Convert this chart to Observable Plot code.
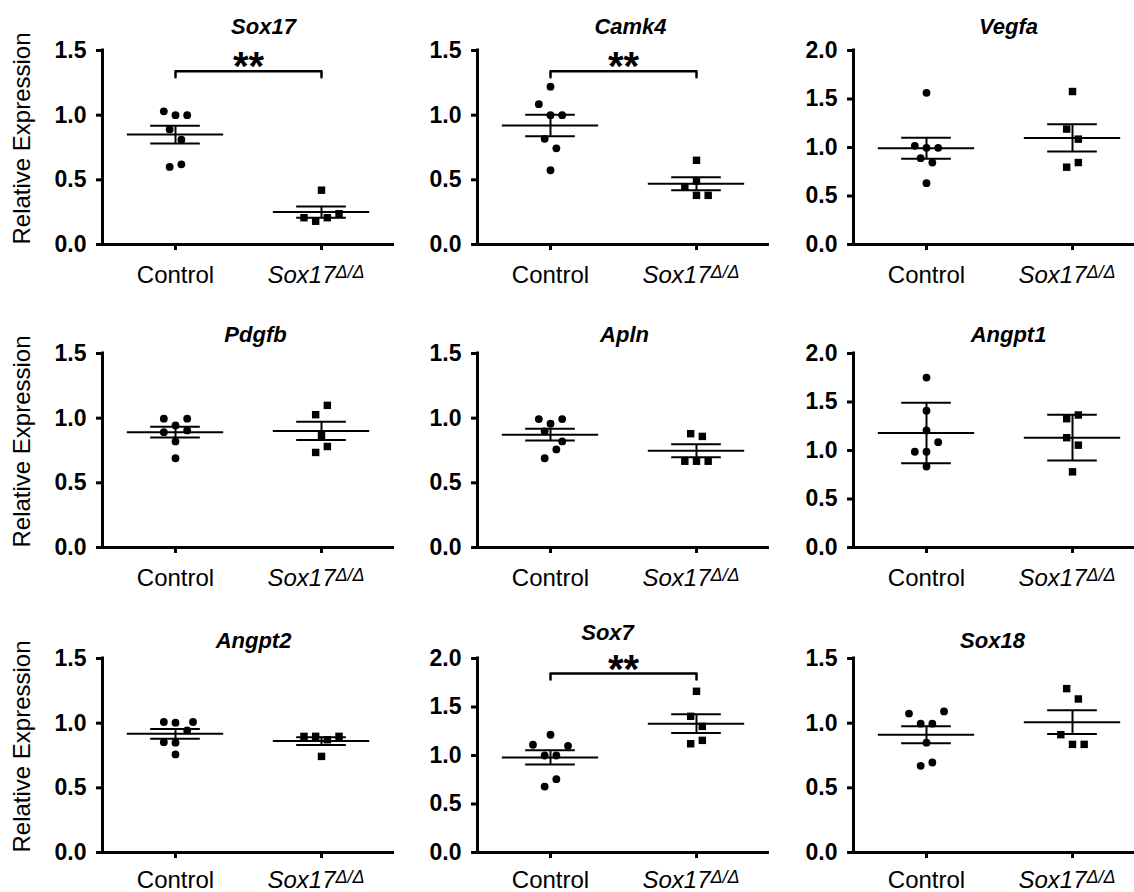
<!DOCTYPE html>
<html><head><meta charset="utf-8">
<script src="https://cdn.jsdelivr.net/npm/d3@7"></script>
<script src="https://cdn.jsdelivr.net/npm/@observablehq/plot@0.6"></script>
<style>
html,body{margin:0;padding:0;background:#fff;overflow:hidden;width:1134px;height:892px;}
#wrap{position:relative;width:1134px;height:892px;overflow:hidden;background:#fff;}
.panel{position:absolute;}
</style></head><body><div id="wrap"></div>
<script>
// ---- data ----
const genes = ["Sox17","Camk4","Vegfa","Pdgfb","Apln","Angpt1","Angpt2","Sox7","Sox18"];
const groups = ["Control","Sox17"];
const groupSuperscript = "Δ/Δ";
const yLabel = "Relative Expression";
const yMax = [1.5,1.5,2.0,1.5,1.5,2.0,1.5,2.0,1.5];
const errType = ["sem","sem","sem","sem","sem","sd","sem","sem","sem"];
const stars = ["**","**","","","","","","**",""];
const bracketY = [1.34,1.34,null,null,null,null,null,1.845,null];

const controlValues = [
  [1.03,1.0,1.0,0.89,0.81,0.60,0.62],
  [1.22,1.085,1.0,1.0,0.817,0.744,0.574],
  [1.564,1.017,0.997,0.997,0.89,0.845,0.632],
  [0.996,0.996,0.944,0.892,0.905,0.82,0.69],
  [0.993,0.957,0.993,0.898,0.82,0.758,0.69],
  [1.752,1.411,1.207,1.086,0.987,0.987,0.835],
  [1.009,1.004,1.009,0.944,0.853,0.849,0.758],
  [1.214,1.111,1.10,1.0,1.0,0.756,0.68],
  [1.074,1.091,0.996,0.996,0.849,0.67,0.696]
];
const controlLanes = [
  [-2,0,2,-1,1,-1,1],
  [0,-2,0,2,-1,1,0],
  [0,-2,0,2,-1,1,0],
  [-2,2,0,-2,2,0,0],
  [-2,0,2,-1,2,1,-1],
  [0,0,0,2,-2,0,0],
  [-2,0,3,2,-2,0,0],
  [0,-3,3,-1,1,1,-1],
  [-3,3,-1,1,0,-1,1]
];
const mutantValues = [
  [0.42,0.207,0.18,0.207,0.238],
  [0.651,0.491,0.444,0.38,0.38],
  [1.577,1.19,1.086,0.797,0.845],
  [1.099,1.027,0.864,0.781,0.735],
  [0.88,0.859,0.667,0.667,0.667],
  [1.366,1.328,1.132,1.055,0.78],
  [0.898,0.898,0.872,0.898,0.743],
  [1.662,1.404,1.30,1.121,1.156],
  [1.267,1.187,0.911,0.836,0.836]
];
const mutantLanes = [
  [0,-3,-1,1,3],
  [0,0,-2,0,2],
  [0,-1,1,-1,1],
  [1,-1,0,1,-1],
  [-1,1,-2,0,2],
  [1,-1,-1,1,0],
  [-3,-1,1,3,0],
  [0,-1,1,-1,1],
  [-1,1,-2,0,2]
];

// ---- layout ----
const FONT = "'Liberation Sans', Arial, Helvetica, sans-serif";
const W = 400, H = 290, ML = 102, MT = 50, MB = 46, MR = 6;
const colLeft = [0,375,751], rowTop = [0,303,608];
const titleDy = [-17,-17,-17,-12,-12,-12,-11,-19,-11];
const titleDx = [15,7,9,7,1,9,5,-16,-7];
const labelDy = [38,38,35];
const laneUnit = 0.04;

const wrap = document.getElementById("wrap");

genes.forEach((gene, i) => {
  const col = i % 3, row = Math.floor(i / 3);
  const ctrl = controlValues[i].map((v, j) => ({x: 0.5 + controlLanes[i][j] * laneUnit, y: v}));
  const mut = mutantValues[i].map((v, j) => ({x: 1.5 + mutantLanes[i][j] * laneUnit, y: v}));
  const stats = [controlValues[i], mutantValues[i]].map((vals, g) => {
    const m = d3.mean(vals), sd = d3.deviation(vals);
    const e = errType[i] === "sd" ? sd : sd / Math.sqrt(vals.length);
    return {x: g + 0.5, mean: m, lo: m - e, hi: m + e};
  });
  const caps = stats.flatMap(s => [{x: s.x, y: s.lo}, {x: s.x, y: s.hi}]);
  const yTicks = d3.range(0, yMax[i] + 1e-9, 0.5);
  const pxPerY = (H - MT - MB) / yMax[i];
  const ldy = labelDy[row];

  const marks = [
    Plot.ruleX([0], {y1: 0, y2: yMax[i], strokeWidth: 3, strokeLinecap: "square"}),
    Plot.ruleY([0], {x1: 0, x2: 2, strokeWidth: 3}),
    Plot.axisY({ticks: yTicks, tickFormat: d => d.toFixed(1), tickSize: 6, tickPadding: 10,
      strokeWidth: 3, fontSize: 23, fontWeight: "bold", label: null}),
    Plot.axisX({ticks: [0.5, 1.5], tickFormat: () => "", tickSize: 6, strokeWidth: 3, label: null}),
    Plot.ruleY(stats, {y: "mean", x1: d => d.x - 0.33, x2: d => d.x + 0.33, strokeWidth: 2}),
    Plot.ruleY(caps, {y: "y", x1: d => d.x - 0.17, x2: d => d.x + 0.17, strokeWidth: 2}),
    Plot.ruleX(stats, {x: "x", y1: "lo", y2: "hi", strokeWidth: 2}),
    Plot.dot(ctrl, {x: "x", y: "y", r: 3.9, fill: "black", symbol: "circle"}),
    Plot.dot(mut, {x: "x", y: "y", r: 4.2, fill: "black", symbol: "square"}),
    Plot.text([gene], {frameAnchor: "top", text: d => d, dy: titleDy[i], dx: titleDx[i], lineAnchor: "bottom",
      textAnchor: "middle", fontSize: 22, fontStyle: "italic", fontWeight: "bold"}),
    Plot.text([{x: 0.5}], {x: "x", y: () => 0, text: () => groups[0], fontSize: 24, fontWeight: "normal",
      lineAnchor: "bottom", dy: ldy}),
    Plot.text([{x: 1.5}], {x: "x", y: () => 0, text: () => groups[1], fontSize: 24, fontWeight: "normal",
      fontStyle: "italic", textAnchor: "end", dx: 14, lineAnchor: "bottom", dy: ldy}),
    Plot.text([{x: 1.5}], {x: "x", y: () => 0, text: () => groupSuperscript, fontSize: 18, fontWeight: "normal",
      fontStyle: "italic", textAnchor: "start", dx: 14, lineAnchor: "bottom", dy: ldy - 5, ariaLabel: "superscript"})
  ];
  if (col === 0) {
    marks.push(Plot.text([yLabel], {frameAnchor: "left", text: d => d, rotate: -90, dx: -80, dy: -9,
      textAnchor: "middle", lineAnchor: "middle", fontSize: 24, fontWeight: "normal"}));
  }
  if (stars[i]) {
    const b = bracketY[i], leg = 6 / pxPerY;
    marks.push(Plot.line([{x: 0.5, y: b - leg}, {x: 0.5, y: b}, {x: 1.5, y: b}, {x: 1.5, y: b - leg}],
      {x: "x", y: "y", strokeWidth: 2.5}));
    marks.push(Plot.text([{x: 1, y: b}], {x: "x", y: "y", text: () => stars[i], fontSize: 40, fontWeight: "bold",
      lineAnchor: "bottom", dy: 9, ariaLabel: "stars"}));
  }

  const svg = Plot.plot({
    width: W, height: H, marginLeft: ML, marginRight: MR, marginTop: MT, marginBottom: MB,
    x: {domain: [0, 2], axis: null},
    y: {domain: [0, yMax[i]], axis: null},
    style: {fontFamily: FONT, fontSize: "23px", fontWeight: "bold", background: "transparent", overflow: "visible", color: "black"},
    marks
  });
  d3.select(svg).selectAll('g[aria-label="superscript"] text').attr("letter-spacing", "2.5px");
  svg.classList.add("panel");
  svg.style.left = colLeft[col] + "px";
  svg.style.top = rowTop[row] + "px";
  wrap.appendChild(svg);
});
</script></body></html>
